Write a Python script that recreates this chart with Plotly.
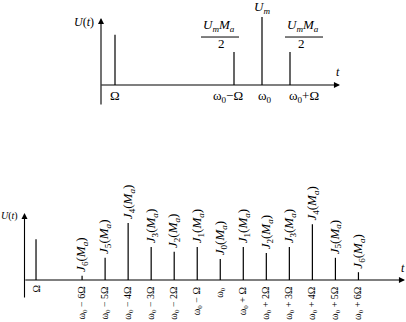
import plotly.graph_objects as go

# ---------------- data ----------------
# top chart: AM spectrum
top_x = [0.5, 4.75, 5.75, 6.75]
top_amp = [0.74, 0.485, 1.0, 0.485]
top_freq_labels = ["Ω", "ω<sub>0</sub>−Ω", "ω<sub>0</sub>", "ω<sub>0</sub>+Ω"]

# bottom chart: FM spectrum
omega_line_x = 0.5
omega_line_amp = 0.68
omega0 = 8.5
harm_k = [-6, -5, -4, -3, -2, -1, 0, 1, 2, 3, 4, 5, 6]
bessel_order = [6, 5, 4, 3, 2, 1, 0, 1, 2, 3, 4, 5, 6]
fm_amp = [0.07, 0.37, 0.95, 0.55, 0.47, 0.55, 0.35, 0.55, 0.45, 0.55, 0.93, 0.37, 0.13]
fm_freq_labels = ["ω<sub>0</sub> − 6Ω", "ω<sub>0</sub> − 5Ω", "ω<sub>0</sub> − 4Ω",
                  "ω<sub>0</sub> − 3Ω", "ω<sub>0</sub> − 2Ω", "ω<sub>0</sub> − Ω",
                  "ω<sub>0</sub>", "ω<sub>0</sub> + Ω", "ω<sub>0</sub> + 2Ω",
                  "ω<sub>0</sub> + 3Ω", "ω<sub>0</sub> + 4Ω", "ω<sub>0</sub> + 5Ω",
                  "ω<sub>0</sub> + 6Ω"]

FONT = "Liberation Serif"
W, H = 406, 322

# pixel geometry (layout only)
T_ORIG_X, T_UNIT_X, T_BASE_Y, T_UNIT_Y = 101, 28.0, 85, 68.0
T_TOP_PX, T_BOT_PX = 0, 115
B_ORIG_X, B_UNIT_X, B_BASE_Y, B_UNIT_Y = 24.5, 23.03, 280, 60.0
B_TOP_PX, B_BOT_PX = 195, 322

fig = go.Figure()

def stems(xs, ys, xa, ya):
    X, Y = [], []
    for x, y in zip(xs, ys):
        X += [x, x, None]
        Y += [0, y, None]
    fig.add_trace(go.Scatter(x=X, y=Y, mode="lines", xaxis=xa, yaxis=ya,
                             line=dict(color="black", width=1.2),
                             hoverinfo="skip", showlegend=False))

stems(top_x, top_amp, "x", "y")
fm_x = [omega0 + k for k in harm_k]
stems([omega_line_x] + fm_x, [omega_line_amp] + fm_amp, "x2", "y2")

ann = []
def arrow(xr, yr, x, y, ax, ay):
    ann.append(dict(xref=xr, yref=yr, axref=xr, ayref=yr, x=x, y=y, ax=ax, ay=ay,
                    text="", showarrow=True, arrowhead=2, arrowsize=1.1,
                    arrowwidth=1.1, arrowcolor="black"))

def text(xr, yr, x, y, t, size=12, **kw):
    d = dict(xref=xr, yref=yr, x=x, y=y, text=t, showarrow=False,
             font=dict(family=FONT, size=size, color="black"))
    d.update(kw)
    ann.append(d)

# ---- top axes ----
t_xmax = (W - T_ORIG_X) / T_UNIT_X
arrow("x", "y", (340 - T_ORIG_X) / T_UNIT_X, 0, -0.04, 0)
arrow("x", "y", 0, (T_BASE_Y - 18) / T_UNIT_Y, 0, -(106 - T_BASE_Y) / T_UNIT_Y)

text("x", "y", 0, (T_BASE_Y - 22) / T_UNIT_Y, "<i>U</i>(<i>t</i>)", 12,
     xanchor="right", xshift=-5)
text("x", "y", (338 - T_ORIG_X) / T_UNIT_X, (T_BASE_Y - 72) / T_UNIT_Y, "<i>t</i>", 12)

shifts = [0, -6, 3, 14]
for x, lab, s in zip(top_x, top_freq_labels, shifts):
    text("x", "y", x, 0, lab, 13, yanchor="top", yshift=-1, xshift=s)

# Um on carrier
text("x", "y", top_x[2], top_amp[2], "<i>U<sub>m</sub></i>", 13, yanchor="bottom", yshift=-1)

# sideband fractions
shapes = []
for i, (num_dx, two_dx, bx0, bx1) in zip([1, 3], [(-15, -13, -33, 5), (13, 11, -5, 33)]):
    x, a = top_x[i], top_amp[i]
    text("x", "y", x, a, "<i>U<sub>m</sub>M<sub>a</sub></i>", 13,
         yanchor="bottom", yshift=16, xshift=num_dx)
    text("x", "y", x, a, "2", 13, yanchor="bottom", yshift=-1, xshift=two_dx)
    shapes.append(dict(type="line", xref="x", yref="y", xsizemode="pixel",
                       ysizemode="pixel", xanchor=x, yanchor=a,
                       x0=bx0, x1=bx1, y0=15, y1=15,
                       line=dict(color="black", width=1)))

# ---- bottom axes ----
arrow("x2", "y2", (405 - B_ORIG_X) / B_UNIT_X, 0, -0.03, 0)
arrow("x2", "y2", 0, (B_BASE_Y - 213) / B_UNIT_Y, 0, -(299 - B_BASE_Y) / B_UNIT_Y)
text("x2", "y2", 0, (B_BASE_Y - 216) / B_UNIT_Y, "<i>U</i>(<i>t</i>)", 10,
     xanchor="right", xshift=-5)
text("x2", "y2", (403 - B_ORIG_X) / B_UNIT_X, (B_BASE_Y - 268) / B_UNIT_Y, "<i>t</i>", 12)
text("x2", "y2", omega_line_x, 0, "Ω", 10, textangle=-90, yanchor="top", yshift=-4)

for x, a, n, lab in zip(fm_x, fm_amp, bessel_order, fm_freq_labels):
    text("x2", "y2", x, a,
         f"<i>J</i><sub>{n}</sub>(<i>M</i><sub><i>a</i></sub>)", 13,
         textangle=-90, yanchor="bottom", yshift=2)
    text("x2", "y2", x, 0, lab, 10, textangle=-90, yanchor="top", yshift=-5)

t_dom_lo = 1 - T_BOT_PX / H
b_dom_hi = 1 - B_TOP_PX / H
hid = dict(visible=False, showgrid=False, zeroline=False)
fig.update_layout(
    width=W, height=H, margin=dict(l=0, r=0, t=0, b=0),
    paper_bgcolor="white", plot_bgcolor="white", showlegend=False,
    xaxis=dict(domain=[0, 1], range=[-T_ORIG_X / T_UNIT_X, t_xmax], anchor="y", **hid),
    yaxis=dict(domain=[t_dom_lo, 1],
               range=[-(T_BOT_PX - T_BASE_Y) / T_UNIT_Y, (T_BASE_Y - T_TOP_PX) / T_UNIT_Y],
               anchor="x", **hid),
    xaxis2=dict(domain=[0, 1], range=[-B_ORIG_X / B_UNIT_X, (W - B_ORIG_X) / B_UNIT_X],
                anchor="y2", **hid),
    yaxis2=dict(domain=[0, b_dom_hi],
                range=[-(B_BOT_PX - B_BASE_Y) / B_UNIT_Y, (B_BASE_Y - B_TOP_PX) / B_UNIT_Y],
                anchor="x2", **hid),
    annotations=ann, shapes=shapes,
)
fig.write_html("out.html")
